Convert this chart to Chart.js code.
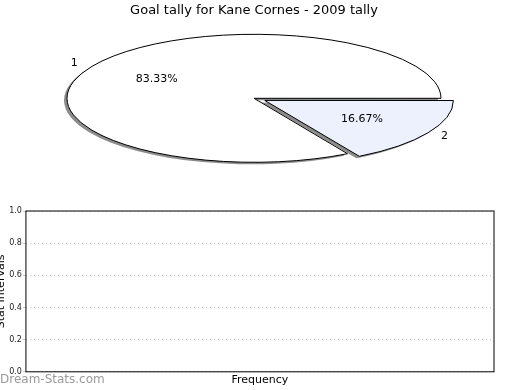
<!DOCTYPE html>
<html>
<head>
<meta charset="utf-8">
<script src="https://cdn.jsdelivr.net/npm/chart.js@4"></script>
<style>
  body { margin: 0; background: #fff; width: 520px; height: 390px; overflow: hidden; position: relative; }
  #pieWrap { position: absolute; left: 0; top: 0; width: 520px; height: 200px; }
  #barWrap { position: absolute; left: -5px; top: 200px; width: 525px; height: 190px; }
  #mark { position: absolute; left: 0; top: 372px; font: 12px "DejaVu Sans"; color: #9a9a9a; }
</style>
</head>
<body>
<div id="pieWrap"><canvas id="pieChart"></canvas></div>
<div id="barWrap"><canvas id="barChart"></canvas></div>
<div id="mark">Dream-Stats.com</div>
<script>
// Goal tally data
const sliceLabels = ['1', '2'];
const goalCounts = [5, 1];
const sliceColors = ['#ffffff', '#ecf1fd'];
const yTicks = [0, 0.2, 0.4, 0.6, 0.8, 1.0];

const stretchX = 187 / 64; // flatten the pie into an ellipse

// stretch the pie horizontally, keep the outline 1px wide
const ellipsePie = {
  id: 'ellipsePie',
  beforeDatasetsDraw(chart) {
    const ctx = chart.ctx;
    const arc = chart.getDatasetMeta(0).data[0];
    const cx = arc.x, cy = arc.y;
    const dpr = chart.currentDevicePixelRatio;
    ctx.save();
    ctx.translate(cx, cy);
    ctx.scale(stretchX, 1);
    ctx.translate(-cx, -cy);
    ctx.shadowColor = 'rgba(0,0,0,0.45)';
    ctx.shadowOffsetX = -3;
    ctx.shadowOffsetY = 2;
    ctx.shadowBlur = 0;
    const origStroke = CanvasRenderingContext2D.prototype.stroke;
    ctx.stroke = function () {
      this.save();
      this.setTransform(dpr, 0, 0, dpr, 0, 0);
      this.shadowColor = 'rgba(0,0,0,0)';
      origStroke.apply(this, arguments);
      this.restore();
    };
  },
  afterDatasetsDraw(chart) {
    const ctx = chart.ctx;
    delete ctx.stroke;
    ctx.restore();

    // percentage and category labels
    const meta = chart.getDatasetMeta(0);
    const total = goalCounts.reduce((a, b) => a + b, 0);
    ctx.save();
    ctx.font = '11px "DejaVu Sans"';
    ctx.fillStyle = '#000';
    ctx.textAlign = 'center';
    ctx.textBaseline = 'middle';
    meta.data.forEach((el, i) => {
      const mid = (el.startAngle + el.endAngle) / 2;
      const off = (el.options.offset || 0) / 4;
      const r = el.outerRadius;
      const bx = el.x + Math.cos(mid) * off * stretchX;
      const by = el.y + Math.sin(mid) * off;
      const pct = (goalCounts[i] / total * 100).toFixed(2) + '%';
      ctx.fillText(pct, bx + Math.cos(mid) * r * 0.6 * stretchX, by + Math.sin(mid) * r * 0.6);
      ctx.fillText(sliceLabels[i], bx + Math.cos(mid) * r * 1.11 * stretchX, by + Math.sin(mid) * r * 1.11);
    });
    ctx.restore();
  }
};

new Chart(document.getElementById('pieChart'), {
  type: 'pie',
  data: {
    labels: sliceLabels,
    datasets: [{
      data: goalCounts,
      backgroundColor: sliceColors,
      borderColor: '#000',
      borderWidth: 1,
      offset: [0, 17],
      radius: 64,
    }],
  },
  options: {
    responsive: true,
    maintainAspectRatio: false,
    animation: false,
    rotation: 150,
    layout: { padding: { left: 0, right: 12, top: 0, bottom: 22 } },
    plugins: {
      legend: { display: false },
      tooltip: { enabled: false },
      title: {
        display: true,
        text: 'Goal tally for Kane Cornes - 2009 tally',
        color: '#000',
        font: { family: 'DejaVu Sans', size: 13, weight: 'normal' },
        padding: { top: 3, bottom: 0 },
      },
    },
  },
  plugins: [ellipsePie],
});

// frame around the empty plot
const plotFrame = {
  id: 'plotFrame',
  afterDraw(chart) {
    const { ctx, chartArea: a } = chart;
    ctx.save();
    ctx.strokeStyle = '#000';
    ctx.lineWidth = 1;
    ctx.strokeRect(a.left, a.top, a.right - a.left, a.bottom - a.top);
    ctx.restore();
  }
};

new Chart(document.getElementById('barChart'), {
  type: 'bar',
  data: {
    labels: [],
    datasets: [{ data: [] }],
  },
  options: {
    responsive: true,
    maintainAspectRatio: false,
    animation: false,
    layout: { padding: { left: 0, right: 26, top: 11, bottom: 1 } },
    plugins: { legend: { display: false }, tooltip: { enabled: false } },
    scales: {
      x: {
        ticks: { display: false },
        grid: { display: false, drawTicks: false },
        border: { display: false },
        title: {
          display: true,
          text: 'Frequency',
          color: '#000',
          font: { family: 'DejaVu Sans', size: 11 },
          padding: { top: 2, bottom: 2 },
        },
      },
      y: {
        min: 0,
        max: 1,
        afterBuildTicks: (axis) => { axis.ticks = yTicks.map(v => ({ value: v })); },
        ticks: {
          color: '#222',
          font: { family: 'DejaVu Sans', size: 8 },
          padding: 1,
          callback: (v) => Number(v).toFixed(1),
        },
        grid: { color: '#c8c8c8', drawTicks: true, tickLength: 3 },
        border: { display: false, dash: [1, 3] },
        title: {
          display: true,
          text: 'Stat Intervals',
          color: '#000',
          font: { family: 'DejaVu Sans', size: 11 },
          padding: { top: 0, bottom: 0 },
        },
      },
    },
  },
  plugins: [plotFrame],
});
</script>
</body>
</html>
